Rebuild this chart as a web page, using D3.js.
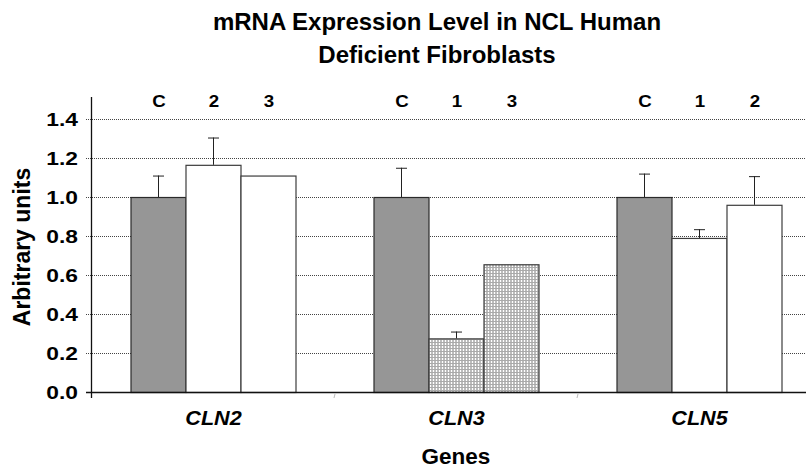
<!doctype html>
<html>
<head>
<meta charset="utf-8">
<script src="https://cdnjs.cloudflare.com/ajax/libs/d3/7.8.5/d3.min.js"></script>
<style>
  body { margin: 0; background: #fff; }
  svg { display: block; font-family: "Liberation Sans", Arial, sans-serif; font-weight: bold; }
</style>
</head>
<body>
<div id="viz"></div>
<script>
// data
var genes = ["CLN2", "CLN3", "CLN5"];
var cellLines = [["C", "2", "3"], ["C", "1", "3"], ["C", "1", "2"]];
var expression = [[1.00, 1.165, 1.11], [1.00, 0.275, 0.655], [1.00, 0.79, 0.96]];
var errorUp = [[0.11, 0.14, null], [0.15, 0.035, null], [0.12, 0.045, 0.147]];
var yTicks = [0.0, 0.2, 0.4, 0.6, 0.8, 1.0, 1.2, 1.4];

var width = 806, height = 469;
var margin = { top: 119, right: -14, bottom: 77, left: 91 };

var svg = d3.select("#viz").append("svg")
    .attr("width", width)
    .attr("height", height);

var defs = svg.append("defs");
var pat = defs.append("pattern")
    .attr("id", "grid")
    .attr("width", 3).attr("height", 3)
    .attr("patternUnits", "userSpaceOnUse");
pat.append("rect").attr("width", 3).attr("height", 3).attr("fill", "#fff");
pat.append("rect").attr("width", 1).attr("height", 3).attr("fill", "#7a7a7a");
pat.append("rect").attr("width", 3).attr("height", 1).attr("fill", "#aaa");

var x = d3.scaleBand()
    .domain(genes)
    .range([margin.left, width - margin.right]);

var xInner = d3.scaleBand()
    .domain([0, 1, 2])
    .range([39.5, x.bandwidth() - 38.5]);

var y = d3.scaleLinear()
    .domain([0, 1.4])
    .range([height - margin.bottom, margin.top]);

// gridlines
svg.append("g")
    .selectAll("line")
    .data(yTicks.slice(1))
    .enter().append("line")
    .attr("x1", margin.left - 5)
    .attr("x2", width)
    .attr("y1", d => y(d) + 0.5)
    .attr("y2", d => y(d) + 0.5)
    .attr("stroke", "#444")
    .attr("stroke-dasharray", "1,1");

// y tick labels (slightly stretched like the source)
svg.append("g")
    .selectAll("text")
    .data(yTicks)
    .enter().append("text")
    .attr("transform", d => "translate(78," + (y(d) + 7) + ") scale(1.2,1)")
    .attr("text-anchor", "end")
    .style("font-size", "19px")
    .text(d => d.toFixed(1));

// bars
var rows = [];
genes.forEach(function (g, gi) {
    cellLines[gi].forEach(function (c, ci) {
        rows.push({ gene: g, gi: gi, ci: ci, label: c, value: expression[gi][ci], err: errorUp[gi][ci] });
    });
});

function barFill(d) {
    if (d.label === "C") return "#969696";
    if (d.gene === "CLN3") return "url(#grid)";
    return "#fff";
}

var bars = svg.append("g")
    .selectAll("g")
    .data(rows)
    .enter().append("g")
    .attr("transform", d => "translate(" + (x(d.gene) + xInner(d.ci)) + ",0)");

bars.append("rect")
    .attr("x", 0.5)
    .attr("y", d => y(d.value) + 0.5)
    .attr("width", xInner.bandwidth())
    .attr("height", d => y(0) - y(d.value))
    .attr("fill", barFill)
    .attr("stroke", d => d.label === "C" ? "#2a2a2a" : "#3c3c3c")
    .attr("stroke-width", 1.2);

// error bars (upper only)
var eb = bars.filter(d => d.err != null);
eb.append("line")
    .attr("x1", xInner.bandwidth() / 2 + 0.5)
    .attr("x2", xInner.bandwidth() / 2 + 0.5)
    .attr("y1", d => y(d.value))
    .attr("y2", d => y(d.value + d.err))
    .attr("stroke", "#222");
eb.append("line")
    .attr("x1", xInner.bandwidth() / 2 - 5)
    .attr("x2", xInner.bandwidth() / 2 + 6)
    .attr("y1", d => y(d.value + d.err) + 0.5)
    .attr("y2", d => y(d.value + d.err) + 0.5)
    .attr("stroke", "#222");

// cell line labels above bars
bars.append("text")
    .attr("transform", d => "translate(" + (xInner.bandwidth() / 2 + 1) + ",107) scale(1.1,1)")
    .attr("text-anchor", "middle")
    .style("font-size", "17px")
    .text(d => d.label);

// axes lines
svg.append("line")
    .attr("x1", margin.left + 0.5).attr("x2", margin.left + 0.5)
    .attr("y1", 97).attr("y2", y(0) + 6)
    .attr("stroke", "#111").attr("stroke-width", 1.3);
svg.append("line")
    .attr("x1", margin.left - 5).attr("x2", width)
    .attr("y1", y(0) + 0.5).attr("y2", y(0) + 0.5)
    .attr("stroke", "#111").attr("stroke-width", 1.5);

// faint category separators
svg.append("g")
    .selectAll("line")
    .data(genes.slice(1))
    .enter().append("line")
    .attr("x1", d => x(d) + 1).attr("x2", d => x(d))
    .attr("y1", y(0) + 2).attr("y2", y(0) + 6)
    .attr("stroke", "#bbb");

// gene labels
svg.append("g")
    .selectAll("text")
    .data(genes)
    .enter().append("text")
    .attr("transform", d => "translate(" + (x(d) + x.bandwidth() / 2 + 1) + ",425) scale(1.08,1)")
    .attr("text-anchor", "middle")
    .style("font-size", "20px")
    .style("font-style", "italic")
    .text(d => d);

svg.append("text")
    .attr("x", 456).attr("y", 464)
    .attr("text-anchor", "middle")
    .style("font-size", "22.5px")
    .text("Genes");

svg.append("text")
    .attr("transform", "translate(30,247) rotate(-90)")
    .attr("text-anchor", "middle")
    .style("font-size", "23px")
    .text("Arbitrary units");

var title = svg.append("text")
    .attr("text-anchor", "middle")
    .style("font-size", "24px");
title.append("tspan").attr("x", 437).attr("y", 30).text("mRNA Expression Level in NCL Human");
title.append("tspan").attr("x", 437).attr("y", 63).text("Deficient Fibroblasts");
</script>
</body>
</html>
